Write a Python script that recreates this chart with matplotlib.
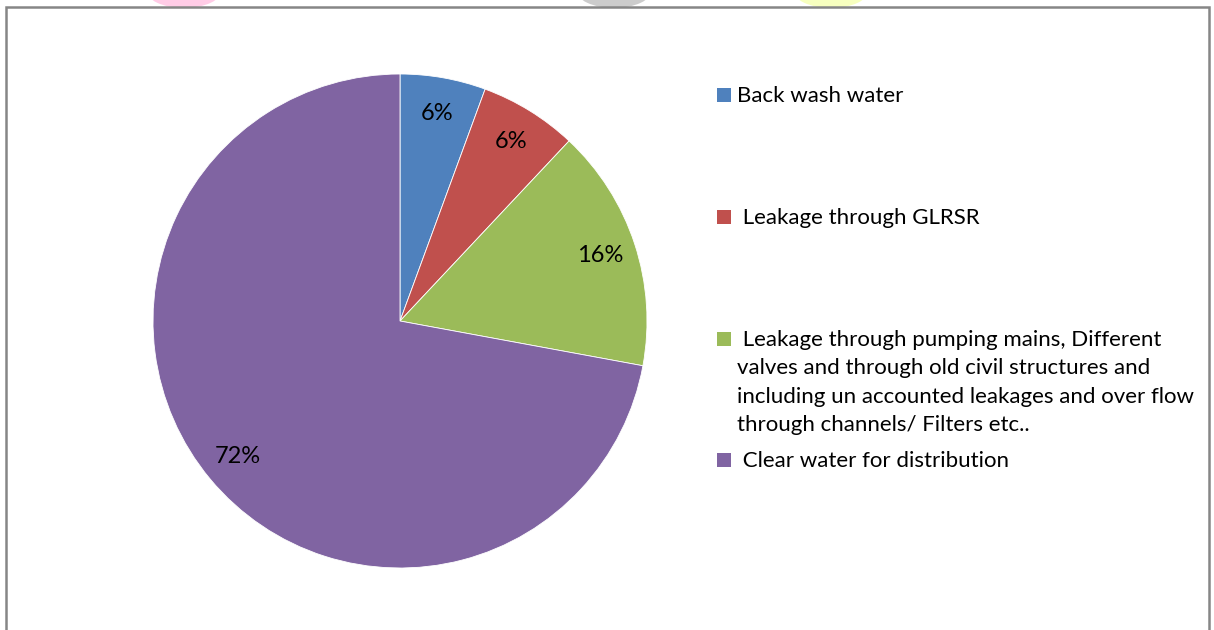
import matplotlib
matplotlib.use("Agg")
import matplotlib.pyplot as plt
from matplotlib.patches import Rectangle, Ellipse

# share of treated water by outlet (percent)
categories = [
    "Back wash water",
    " Leakage through GLRSR",
    " Leakage through pumping mains, Different\nvalves and through old civil structures and\n"
    "including un accounted leakages and over flow\nthrough channels/ Filters etc..",
    " Clear water for distribution",
]
shares = [5.6, 6.4, 15.9, 72.1]
colors = ["#4F81BD", "#C0504D", "#9BBB59", "#8064A2"]

# legend rows (figure pixels from top, centre of the swatch)
legend_rows = [95, 217, 339, 460]

W, H = 1214, 630
FONT = "Lato"

fig = plt.figure(figsize=(W / 100, H / 100), dpi=100)
fig.patch.set_facecolor("white")


def px(x, y):
    return x / W, 1 - y / H


# pie centred at (400, 321), radius 247 px
cx, cy, r = 400, 321, 247
ax = fig.add_axes([(cx - r) / W, (H - cy - r) / H, 2 * r / W, 2 * r / H])
wedges, _, autotexts = ax.pie(
    shares,
    colors=colors,
    startangle=90,
    counterclock=False,
    autopct="%.0f%%",
    pctdistance=0.855,
    radius=1,
    wedgeprops={"edgecolor": "white", "linewidth": 0.6},
    textprops={"fontsize": 17, "family": FONT, "color": "black"},
)
ax.set_xlim(-1, 1)
ax.set_ylim(-1, 1)
ax.set_aspect("equal")
ax.axis("off")

# legend drawn by hand so the rows keep their own spacing
for label, color, yc in zip(categories, colors, legend_rows):
    x0, y0 = px(717, yc + 7)
    fig.patches.append(Rectangle((x0, y0), 14 / W, 14 / H, transform=fig.transFigure,
                                 facecolor=color, edgecolor="none"))
    tx, ty = px(737, yc - 9)
    fig.text(tx, ty, label, fontsize=16, family=FONT, va="top", ha="left",
             linespacing=1.52, color="black")

# outer chart border
bx, by = px(6, H + 10)
fig.patches.append(Rectangle((bx, by), (1209 - 6) / W, (H + 10 - 6.5) / H,
                             transform=fig.transFigure, fill=False,
                             edgecolor="#868686", linewidth=1.8))

# faint page decorations peeking above the border
for xc, col in [(184, "#FFC4E2"), (614, "#C4C4C4"), (831, "#F6FFB4")]:
    ex, ey = px(xc, -10)
    fig.patches.append(Ellipse((ex, ey), 76 / W, 36 / H, transform=fig.transFigure,
                               facecolor=col, edgecolor="none", alpha=0.85, zorder=0))

fig.savefig("out.png", dpi=100, facecolor="white")
